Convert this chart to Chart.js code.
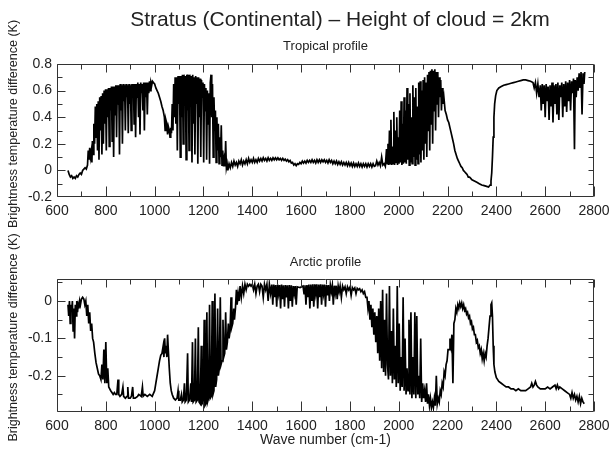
<!DOCTYPE html>
<html lang="en">
  <head>
    <meta charset="UTF-8" />
    <title>Stratus (Continental) – Height of cloud = 2km</title>
    <script src="https://cdn.jsdelivr.net/npm/chart.js"></script>
    <style>
      body {
        margin: 0;
        background: #fff;
      }
      .panel {
        position: absolute;
        left: 0;
      }
    </style>
  </head>
  <body>
    <canvas id="tropicalChart" class="panel" width="612" height="230" style="top: 0"></canvas>
    <canvas id="arcticChart" class="panel" width="612" height="225" style="top: 230px"></canvas>

    <script>
      // wave number axis (cm-1)
      const xTicks = [600, 800, 1000, 1200, 1400, 1600, 1800, 2000, 2200, 2400, 2600, 2800];
      const tropicalTicks = [-0.2, 0, 0.2, 0.4, 0.6, 0.8];
      const tropicalMinor = [-0.1, 0.1, 0.3, 0.5, 0.7];
      const arcticTicks = [-0.2, -0.1, 0];
      const arcticMinor = [-0.25, -0.15, -0.05, 0.05];

      // [wave number, brightness temperature difference (K)]
      const tropical = [
        [645, 0.0], [650, -0.03], [655, -0.05], [660, -0.04], [665, -0.06], [670, -0.05], [675, -0.06], [680, -0.04],
        [685, -0.05], [690, -0.03], [695, -0.02], [700, -0.03], [705, 0.0], [710, 0.01], [715, 0.02], [720, 0.01],
        [725, 0.04], [728, 0.15], [731, 0.08], [734, 0.17], [737, 0.1], [740, 0.14], [743, 0.06], [745, 0.22],
        [748, 0.12], [751, 0.35], [754, 0.2], [757, 0.48], [760, 0.25], [763, 0.5], [766, 0.15], [769, 0.52],
        [772, 0.08], [775, 0.55], [778, 0.3], [781, 0.56], [784, 0.12], [787, 0.58], [790, 0.2], [793, 0.6],
        [796, 0.35], [799, 0.61], [802, 0.15], [805, 0.61], [808, 0.4], [811, 0.62], [814, 0.18], [817, 0.62],
        [820, 0.45], [823, 0.63], [826, 0.22], [829, 0.63], [832, 0.1], [835, 0.63], [838, 0.42], [841, 0.64],
        [844, 0.25], [847, 0.64], [850, 0.5], [853, 0.64], [856, 0.12], [859, 0.65], [862, 0.45], [865, 0.64],
        [868, 0.2], [871, 0.65], [874, 0.52], [877, 0.64], [880, 0.3], [883, 0.65], [886, 0.55], [889, 0.64],
        [892, 0.28], [895, 0.65], [898, 0.5], [901, 0.64], [904, 0.3], [907, 0.65], [910, 0.58], [913, 0.65],
        [916, 0.35], [919, 0.65], [922, 0.25], [925, 0.65], [928, 0.55], [931, 0.66], [934, 0.4], [937, 0.65],
        [940, 0.27], [943, 0.66], [946, 0.58], [949, 0.65], [952, 0.45], [955, 0.66], [958, 0.3], [961, 0.66],
        [964, 0.55], [967, 0.66], [970, 0.42], [973, 0.66], [976, 0.58], [979, 0.67], [982, 0.6], [985, 0.66],
        [988, 0.64], [991, 0.67], [995, 0.66], [1000, 0.65], [1005, 0.62], [1010, 0.6], [1015, 0.58], [1020, 0.55],
        [1025, 0.52], [1030, 0.48], [1035, 0.45], [1040, 0.4], [1043, 0.3], [1046, 0.38], [1050, 0.35], [1053, 0.27],
        [1056, 0.33], [1060, 0.3], [1063, 0.25], [1066, 0.32], [1069, 0.28], [1072, 0.5], [1075, 0.3], [1078, 0.65],
        [1081, 0.4], [1084, 0.7], [1087, 0.35], [1090, 0.7], [1093, 0.15], [1096, 0.71], [1099, 0.5], [1102, 0.71],
        [1105, 0.1], [1108, 0.71], [1111, 0.4], [1114, 0.72], [1117, 0.2], [1120, 0.72], [1123, 0.6], [1126, 0.71],
        [1129, 0.08], [1132, 0.72], [1135, 0.45], [1138, 0.72], [1141, 0.15], [1144, 0.72], [1147, 0.55], [1150, 0.71],
        [1153, 0.06], [1156, 0.72], [1159, 0.35], [1162, 0.7], [1165, 0.12], [1168, 0.71], [1171, 0.5], [1174, 0.7],
        [1177, 0.05], [1180, 0.7], [1183, 0.4], [1186, 0.69], [1189, 0.1], [1192, 0.68], [1195, 0.55], [1198, 0.66],
        [1201, 0.06], [1204, 0.65], [1207, 0.45], [1210, 0.62], [1213, 0.08], [1216, 0.6], [1219, 0.35], [1222, 0.58],
        [1225, 0.05], [1228, 0.66], [1231, 0.72], [1234, 0.4], [1237, 0.65], [1240, 0.1], [1243, 0.55], [1246, 0.3],
        [1249, 0.45], [1252, 0.06], [1255, 0.4], [1258, 0.15], [1261, 0.35], [1264, 0.05], [1267, 0.25], [1270, 0.1],
        [1273, 0.34], [1276, 0.04], [1279, 0.15], [1282, 0.03], [1285, 0.08], [1288, 0.03], [1291, 0.22], [1294, 0.02],
        [1297, 0.05], [1300, 0.0], [1305, 0.05], [1310, 0.02], [1315, 0.06], [1320, 0.03], [1325, 0.07], [1330, 0.04],
        [1335, 0.06], [1340, 0.03], [1345, 0.07], [1350, 0.05], [1355, 0.08], [1360, 0.04], [1365, 0.07], [1370, 0.05],
        [1375, 0.08], [1380, 0.05], [1385, 0.09], [1390, 0.06], [1395, 0.08], [1400, 0.06], [1405, 0.09], [1410, 0.06],
        [1415, 0.08], [1420, 0.06], [1425, 0.09], [1430, 0.07], [1435, 0.09], [1440, 0.07], [1445, 0.095], [1450, 0.075],
        [1455, 0.09], [1460, 0.07], [1465, 0.095], [1470, 0.075], [1475, 0.09], [1480, 0.075], [1485, 0.095], [1490, 0.08],
        [1495, 0.095], [1500, 0.08], [1505, 0.095], [1510, 0.08], [1515, 0.09], [1520, 0.075], [1525, 0.09], [1530, 0.075],
        [1535, 0.085], [1540, 0.07], [1545, 0.08], [1550, 0.065], [1555, 0.075], [1560, 0.055], [1565, 0.06], [1570, 0.04],
        [1575, 0.05], [1580, 0.035], [1585, 0.05], [1590, 0.045], [1595, 0.06], [1600, 0.05], [1605, 0.07], [1610, 0.055],
        [1615, 0.07], [1620, 0.055], [1625, 0.075], [1630, 0.06], [1635, 0.075], [1640, 0.06], [1645, 0.08], [1650, 0.06],
        [1655, 0.075], [1660, 0.055], [1665, 0.08], [1670, 0.06], [1675, 0.08], [1680, 0.06], [1685, 0.08], [1690, 0.065],
        [1695, 0.08], [1700, 0.06], [1705, 0.075], [1710, 0.055], [1715, 0.08], [1720, 0.06], [1725, 0.075], [1730, 0.05],
        [1735, 0.07], [1740, 0.05], [1745, 0.07], [1750, 0.045], [1755, 0.065], [1760, 0.045], [1765, 0.065], [1770, 0.04],
        [1775, 0.06], [1780, 0.04], [1785, 0.06], [1790, 0.035], [1795, 0.06], [1800, 0.035], [1805, 0.055], [1810, 0.03],
        [1815, 0.055], [1820, 0.03], [1825, 0.05], [1830, 0.03], [1835, 0.055], [1840, 0.03], [1845, 0.05], [1850, 0.025],
        [1855, 0.05], [1860, 0.03], [1865, 0.05], [1870, 0.025], [1875, 0.05], [1880, 0.03], [1885, 0.05], [1890, 0.025],
        [1895, 0.05], [1900, 0.03], [1905, 0.035], [1910, 0.07], [1915, 0.04], [1920, 0.06], [1925, 0.035],
        [1930, 0.1], [1935, 0.04], [1940, 0.05], [1945, 0.03], [1950, 0.16], [1953, 0.05], [1956, 0.2], [1959, 0.04],
        [1962, 0.3], [1965, 0.05], [1968, 0.38], [1971, 0.04], [1974, 0.18], [1977, 0.05], [1980, 0.44], [1983, 0.04],
        [1986, 0.3], [1989, 0.06], [1992, 0.4], [1995, 0.04], [1998, 0.25], [2001, 0.05], [2004, 0.45], [2007, 0.06],
        [2010, 0.52], [2013, 0.04], [2016, 0.35], [2019, 0.05], [2022, 0.55], [2025, 0.06], [2028, 0.45], [2031, 0.05],
        [2034, 0.62], [2037, 0.08], [2040, 0.5], [2043, 0.04], [2046, 0.58], [2049, 0.06], [2052, 0.4], [2055, 0.05],
        [2058, 0.64], [2061, 0.1], [2064, 0.55], [2067, 0.04], [2070, 0.62], [2073, 0.08], [2076, 0.48], [2079, 0.05],
        [2082, 0.66], [2085, 0.12], [2088, 0.67], [2091, 0.06], [2094, 0.6], [2097, 0.15], [2100, 0.68], [2103, 0.08],
        [2106, 0.7], [2109, 0.2], [2112, 0.66], [2115, 0.1], [2118, 0.72], [2121, 0.3], [2124, 0.74], [2127, 0.15],
        [2130, 0.75], [2133, 0.35], [2136, 0.76], [2139, 0.2], [2142, 0.75], [2145, 0.45], [2148, 0.76], [2151, 0.3],
        [2154, 0.74], [2157, 0.5], [2160, 0.74], [2163, 0.4], [2166, 0.7], [2169, 0.55], [2172, 0.68], [2175, 0.45],
        [2178, 0.62], [2181, 0.5], [2185, 0.55], [2190, 0.45], [2195, 0.42], [2200, 0.38], [2205, 0.36], [2210, 0.32],
        [2215, 0.28], [2220, 0.24], [2225, 0.2], [2230, 0.15], [2235, 0.12], [2240, 0.09], [2245, 0.07], [2250, 0.05],
        [2255, 0.03], [2260, 0.02], [2265, 0.0], [2270, -0.01], [2275, -0.02], [2280, -0.03], [2285, -0.05], [2290, -0.05],
        [2295, -0.06], [2300, -0.07], [2310, -0.08], [2320, -0.09], [2330, -0.1], [2340, -0.11], [2350, -0.115], [2360, -0.12],
        [2368, -0.125], [2374, -0.11], [2378, -0.08], [2381, -0.02], [2384, 0.1], [2387, 0.25], [2390, 0.4], [2393, 0.5],
        [2397, 0.56], [2402, 0.6], [2410, 0.62], [2420, 0.63], [2430, 0.64], [2440, 0.645], [2450, 0.65], [2460, 0.655],
        [2470, 0.66], [2480, 0.665], [2490, 0.67], [2500, 0.675], [2510, 0.68], [2520, 0.68], [2530, 0.675], [2540, 0.67],
        [2550, 0.66], [2555, 0.62], [2560, 0.66], [2565, 0.58], [2570, 0.65], [2575, 0.55], [2580, 0.64], [2584, 0.45],
        [2588, 0.65], [2592, 0.5], [2596, 0.64], [2600, 0.4], [2604, 0.65], [2608, 0.52], [2612, 0.63], [2616, 0.38],
        [2620, 0.64], [2624, 0.48], [2628, 0.66], [2632, 0.36], [2636, 0.64], [2640, 0.5], [2644, 0.65], [2648, 0.42],
        [2652, 0.66], [2656, 0.38], [2660, 0.64], [2664, 0.55], [2668, 0.66], [2672, 0.4], [2676, 0.65], [2680, 0.48],
        [2684, 0.67], [2688, 0.44], [2692, 0.66], [2696, 0.52], [2700, 0.68], [2704, 0.45], [2708, 0.67], [2712, 0.58],
        [2716, 0.69], [2720, 0.16], [2723, 0.68], [2727, 0.55], [2731, 0.7], [2735, 0.6], [2739, 0.73], [2743, 0.62],
        [2747, 0.74], [2751, 0.42], [2755, 0.73], [2759, 0.65], [2762, 0.74]
      ];

      const arctic = [
        [645, -0.01], [648, -0.04], [651, 0.0], [654, -0.06], [657, -0.01], [660, -0.03], [663, 0.0], [666, -0.08],
        [669, -0.02], [672, -0.1], [675, -0.01], [678, -0.04], [681, 0.0], [684, -0.03], [687, -0.01], [690, -0.02],
        [693, 0.0], [696, -0.01], [700, 0.005], [705, 0.01], [710, 0.005], [714, -0.01], [718, 0.0], [722, -0.04],
        [726, -0.01], [730, -0.06], [734, -0.03], [738, -0.08], [742, -0.06], [746, -0.1], [750, -0.11], [755, -0.14],
        [760, -0.165], [765, -0.18], [770, -0.195], [775, -0.2], [780, -0.21], [784, -0.17], [788, -0.21], [792, -0.13],
        [796, -0.22], [800, -0.11], [804, -0.22], [808, -0.18], [812, -0.23], [816, -0.235], [820, -0.24], [825, -0.245],
        [830, -0.25], [835, -0.245], [840, -0.25], [845, -0.25], [850, -0.21], [853, -0.25], [858, -0.255], [865, -0.25],
        [870, -0.23], [873, -0.255], [880, -0.26], [887, -0.255], [890, -0.23], [893, -0.26], [900, -0.26], [905, -0.255],
        [910, -0.23], [913, -0.26], [920, -0.26], [930, -0.255], [935, -0.25], [945, -0.255], [950, -0.23], [953, -0.255],
        [960, -0.25], [970, -0.255], [980, -0.25], [990, -0.255], [1000, -0.24], [1005, -0.22], [1010, -0.2], [1015, -0.18],
        [1020, -0.16], [1025, -0.145], [1030, -0.14], [1035, -0.12], [1038, -0.15], [1041, -0.1], [1044, -0.14], [1047, -0.12],
        [1050, -0.15], [1053, -0.09], [1056, -0.13], [1060, -0.18], [1064, -0.22], [1068, -0.24], [1072, -0.25], [1078, -0.26],
        [1085, -0.265], [1092, -0.26], [1096, -0.24], [1099, -0.265], [1105, -0.265], [1110, -0.25], [1113, -0.27], [1118, -0.265],
        [1122, -0.22], [1125, -0.27], [1130, -0.265], [1135, -0.14], [1138, -0.27], [1143, -0.265], [1148, -0.22], [1151, -0.27],
        [1155, -0.11], [1158, -0.27], [1163, -0.265], [1167, -0.1], [1170, -0.27], [1175, -0.265], [1179, -0.07], [1182, -0.27],
        [1187, -0.275], [1191, -0.12], [1194, -0.275], [1199, -0.27], [1203, -0.05], [1206, -0.28], [1210, -0.275], [1214, -0.03],
        [1217, -0.27], [1221, -0.26], [1225, -0.01], [1228, -0.26], [1232, -0.255], [1236, 0.0], [1239, -0.25], [1243, -0.24],
        [1247, 0.02], [1250, -0.23], [1254, -0.21], [1258, -0.02], [1261, -0.2], [1265, -0.18], [1269, 0.01], [1272, -0.17],
        [1276, -0.16], [1280, -0.05], [1283, -0.15], [1287, -0.14], [1291, -0.03], [1294, -0.13], [1298, -0.11], [1302, -0.06],
        [1305, -0.1], [1309, -0.08], [1313, 0.01], [1316, -0.07], [1320, -0.06], [1324, -0.02], [1327, -0.05], [1331, -0.02],
        [1335, 0.03], [1338, -0.01], [1342, 0.02], [1346, 0.0], [1350, 0.04], [1355, 0.01], [1360, 0.04], [1365, 0.02],
        [1370, 0.045], [1375, 0.03], [1380, 0.045], [1385, 0.04], [1390, 0.045], [1395, 0.04], [1400, 0.045], [1405, 0.03],
        [1410, 0.045], [1415, 0.02], [1420, 0.04], [1425, 0.045], [1430, 0.025], [1435, 0.045], [1440, 0.04], [1445, 0.01],
        [1450, 0.045], [1455, 0.03], [1460, 0.045], [1465, 0.0], [1470, 0.045], [1475, 0.02], [1480, 0.044], [1484, -0.01],
        [1488, 0.044], [1492, 0.01], [1496, 0.043], [1500, -0.015], [1504, 0.044], [1508, 0.02], [1512, 0.043], [1516, -0.02],
        [1520, 0.044], [1524, 0.005], [1528, 0.042], [1532, -0.015], [1536, 0.043], [1540, 0.01], [1544, 0.042], [1548, -0.02],
        [1552, 0.043], [1556, 0.0], [1560, 0.042], [1564, -0.015], [1568, 0.04], [1572, 0.02], [1576, 0.04], [1580, -0.01],
        [1584, 0.038], [1590, 0.037], [1596, 0.036], [1602, 0.038], [1608, 0.04], [1612, 0.02], [1616, 0.042], [1620, -0.01],
        [1624, 0.043], [1628, 0.01], [1632, 0.044], [1636, -0.02], [1640, 0.044], [1644, 0.0], [1648, 0.045], [1652, -0.015],
        [1656, 0.045], [1660, 0.02], [1664, 0.045], [1668, -0.02], [1672, 0.044], [1676, 0.01], [1680, 0.045], [1684, -0.01],
        [1688, 0.044], [1692, 0.02], [1696, 0.044], [1700, -0.015], [1704, 0.043], [1708, 0.015], [1712, 0.043], [1716, 0.0],
        [1720, 0.042], [1724, 0.025], [1728, 0.042], [1732, -0.01], [1736, 0.041], [1740, 0.02], [1744, 0.041], [1748, 0.005],
        [1752, 0.04], [1756, 0.025], [1760, 0.04], [1765, 0.01], [1770, 0.04], [1775, 0.03], [1780, 0.038], [1785, 0.02],
        [1790, 0.038], [1795, 0.03], [1800, 0.037], [1805, 0.015], [1810, 0.036], [1815, 0.03], [1820, 0.035], [1825, 0.02],
        [1830, 0.034], [1835, 0.03], [1840, 0.033], [1845, 0.025], [1850, 0.03], [1855, 0.02], [1860, 0.025], [1865, 0.01],
        [1870, 0.01], [1874, -0.02], [1878, 0.0], [1882, -0.05], [1886, -0.01], [1890, -0.07], [1894, -0.02], [1898, -0.09],
        [1902, -0.03], [1906, -0.11], [1910, -0.04], [1914, -0.14], [1918, -0.02], [1922, -0.16], [1926, 0.0], [1930, -0.18],
        [1934, 0.03], [1938, -0.19], [1942, -0.05], [1946, -0.2], [1950, 0.02], [1954, -0.17], [1958, -0.21], [1962, 0.04],
        [1966, -0.2], [1970, -0.08], [1974, -0.22], [1978, -0.02], [1982, -0.21], [1986, -0.12], [1990, -0.23], [1994, 0.04],
        [1998, -0.22], [2002, -0.06], [2006, -0.24], [2010, -0.15], [2014, -0.23], [2018, 0.01], [2022, -0.24], [2026, -0.1],
        [2030, -0.25], [2034, -0.18], [2038, -0.24], [2042, -0.05], [2046, -0.25], [2050, -0.03], [2054, -0.26], [2058, -0.15],
        [2062, -0.25], [2066, -0.03], [2070, -0.26], [2074, -0.04], [2078, -0.25], [2082, -0.2], [2086, -0.26], [2090, -0.1],
        [2094, -0.27], [2098, -0.22], [2102, -0.26], [2106, -0.24], [2110, -0.27], [2114, -0.22], [2118, -0.275], [2122, -0.25],
        [2126, -0.28], [2130, -0.26], [2134, -0.285], [2138, -0.27], [2142, -0.285], [2146, -0.26], [2150, -0.28], [2154, -0.2],
        [2158, -0.275], [2162, -0.26], [2166, -0.27], [2170, -0.24], [2174, -0.25], [2178, -0.22], [2182, -0.23], [2186, -0.19],
        [2190, -0.2], [2194, -0.17], [2198, -0.16], [2202, -0.13], [2206, -0.13], [2210, -0.1], [2214, -0.12], [2218, -0.09],
        [2222, -0.22], [2226, -0.06], [2230, -0.05], [2234, -0.02], [2238, -0.03], [2242, -0.01], [2246, -0.02], [2250, -0.005],
        [2254, -0.015], [2258, -0.005], [2262, -0.02], [2266, -0.01], [2270, -0.025], [2274, -0.02], [2278, -0.035], [2282, -0.03],
        [2286, -0.045], [2290, -0.04], [2294, -0.06], [2298, -0.055], [2302, -0.075], [2306, -0.07], [2310, -0.09], [2314, -0.09],
        [2318, -0.11], [2322, -0.105], [2326, -0.125], [2330, -0.12], [2334, -0.14], [2338, -0.13], [2342, -0.155], [2346, -0.14],
        [2350, -0.16], [2354, -0.14], [2358, -0.15], [2362, -0.12], [2366, -0.1], [2370, -0.07], [2374, -0.04], [2378, -0.01],
        [2381, -0.005], [2384, -0.04], [2387, -0.12], [2390, -0.17], [2394, -0.19], [2400, -0.205], [2410, -0.215], [2420, -0.22],
        [2430, -0.225], [2440, -0.23], [2450, -0.23], [2460, -0.235], [2470, -0.235], [2480, -0.24], [2490, -0.235], [2500, -0.24],
        [2510, -0.24], [2520, -0.24], [2530, -0.235], [2540, -0.23], [2545, -0.22], [2550, -0.23], [2555, -0.225], [2560, -0.215],
        [2565, -0.225], [2570, -0.23], [2580, -0.235], [2590, -0.235], [2600, -0.235], [2610, -0.23], [2620, -0.235], [2630, -0.23],
        [2640, -0.225], [2645, -0.235], [2650, -0.225], [2655, -0.235], [2660, -0.23], [2670, -0.235], [2680, -0.24], [2690, -0.245],
        [2700, -0.25], [2705, -0.26], [2710, -0.245], [2715, -0.26], [2720, -0.25], [2725, -0.265], [2730, -0.255], [2735, -0.27],
        [2740, -0.255], [2745, -0.275], [2750, -0.26], [2755, -0.27], [2760, -0.275]
      ];

      const FONT = "'Liberation Sans', Arial, Helvetica, sans-serif";
      const INK = "#222";

      // IDL-style box with inward ticks on all four sides
      const frameTicks = {
        id: "frameTicks",
        afterDatasetsDraw(chart, args, opts) {
          const { ctx, chartArea: a, scales } = chart;
          const x = scales.x, y = scales.y;
          const L = Math.round(a.left) + 0.5;
          const R = Math.round(a.right) - 0.5;
          const T = Math.round(a.top) + 0.5;
          const B = Math.round(a.bottom) - 0.5;
          ctx.save();
          ctx.strokeStyle = "#333";
          ctx.lineWidth = 1;
          ctx.beginPath();
          ctx.rect(L, T, R - L, B - T);
          for (let v = 600; v <= 2800; v += 100) {
            const px = Math.round(x.getPixelForValue(v)) + 0.5;
            const major = v % 200 === 0;
            ctx.moveTo(px, B);
            ctx.lineTo(px, B - (major ? 10 : 5));
            ctx.moveTo(px, T);
            ctx.lineTo(px, T + (major ? 8 : 5));
          }
          const yTick = (v, len) => {
            const py = Math.round(y.getPixelForValue(v)) + 0.5;
            if (py < T - 0.1 || py > B + 0.1) return;
            ctx.moveTo(L, py);
            ctx.lineTo(L + len, py);
            ctx.moveTo(R, py);
            ctx.lineTo(R - 5, py);
          };
          opts.major.forEach((v) => yTick(v, 8));
          opts.minor.forEach((v) => yTick(v, 5));
          ctx.stroke();
          ctx.restore();
        },
      };

      // titles and axis names
      const captions = {
        id: "captions",
        afterDraw(chart, args, opts) {
          const { ctx, chartArea: a } = chart;
          const cx = (a.left + a.right) / 2;
          ctx.save();
          ctx.fillStyle = INK;
          ctx.textAlign = "center";
          ctx.textBaseline = "middle";
          opts.items.forEach((t) => {
            ctx.save();
            ctx.font = t.size + "px " + FONT;
            ctx.translate(t.x !== undefined ? t.x : cx, t.y);
            if (t.rotate) ctx.rotate(-Math.PI / 2);
            ctx.fillText(t.text, 0, 0);
            ctx.restore();
          });
          ctx.restore();
        },
      };

      function makePanel(id, series, cfg) {
        const ctx = document.getElementById(id).getContext("2d");
        return new Chart(ctx, {
          type: "line",
          data: {
            datasets: [
              {
                data: series.map(([x, y]) => ({ x, y })),
                borderColor: "#000",
                borderWidth: 1.7,
                pointRadius: 0,
                tension: 0,
              },
            ],
          },
          options: {
            responsive: false,
            animation: false,
            devicePixelRatio: 1,
            events: [],
            layout: { padding: { top: cfg.top, right: 18, left: 0, bottom: 0 } },
            scales: {
              x: {
                type: "linear",
                min: 600,
                max: 2800,
                afterBuildTicks: (s) => {
                  s.ticks = xTicks.map((value) => ({ value }));
                },
                afterFit: (s) => {
                  s.height = cfg.xHeight;
                  s.paddingLeft = 0;
                  s.paddingRight = 0;
                },
                grid: { display: false, drawTicks: false },
                border: { display: false },
                ticks: {
                  font: { family: FONT, size: 14 },
                  color: INK,
                  padding: 6,
                  maxRotation: 0,
                  autoSkip: false,
                  callback: (v) => String(v),
                },
              },
              y: {
                type: "linear",
                min: cfg.yMin,
                max: cfg.yMax,
                afterBuildTicks: (s) => {
                  s.ticks = cfg.yTicks.map((value) => ({ value }));
                },
                afterFit: (s) => {
                  s.width = 57;
                },
                grid: { display: false, drawTicks: false },
                border: { display: false },
                ticks: {
                  font: { family: FONT, size: 14 },
                  color: INK,
                  padding: 5,
                  callback: (v) => (v === 0 ? "0" : Number(v).toFixed(1)),
                },
              },
            },
            plugins: {
              legend: { display: false },
              tooltip: { enabled: false },
              frameTicks: { major: cfg.yTicks, minor: cfg.yMinor },
              captions: { items: cfg.texts },
            },
          },
          plugins: [frameTicks, captions],
        });
      }

      makePanel("tropicalChart", tropical, {
        top: 64,
        xHeight: 33,
        yMin: -0.2,
        yMax: 0.8,
        yTicks: tropicalTicks,
        yMinor: tropicalMinor,
        texts: [
          { text: "Stratus (Continental) – Height of cloud = 2km", x: 340, y: 20, size: 21 },
          { text: "Tropical profile", y: 46, size: 13 },
          { text: "Brightness temperature difference (K)", x: 14, y: 124, size: 12.5, rotate: true },
        ],
      });

      makePanel("arcticChart", arctic, {
        top: 49,
        xHeight: 43,
        yMin: -0.297,
        yMax: 0.059,
        yTicks: arcticTicks,
        yMinor: arcticMinor,
        texts: [
          { text: "Arctic profile", y: 32, size: 13 },
          { text: "Brightness temperature difference (K)", x: 14, y: 107.5, size: 12.5, rotate: true },
          { text: "Wave number (cm-1)", y: 210, size: 14 },
        ],
      });
    </script>
  </body>
</html>
